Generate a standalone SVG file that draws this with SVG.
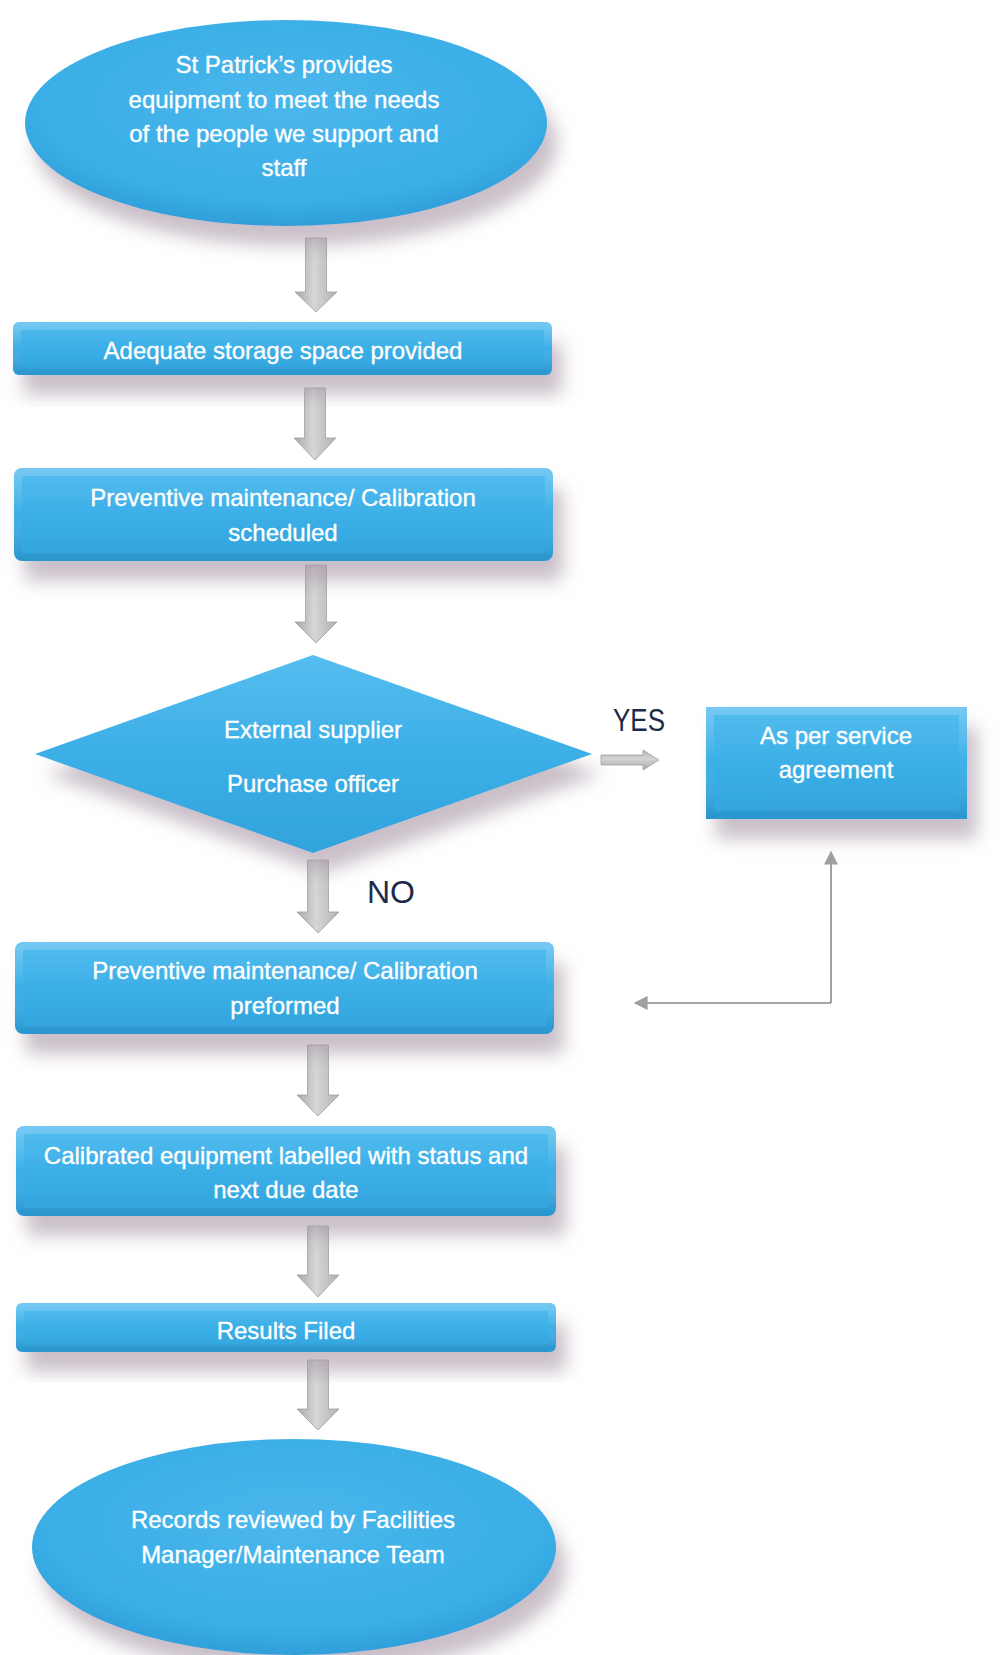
<svg xmlns="http://www.w3.org/2000/svg" width="1003" height="1655" viewBox="0 0 1003 1655">
<defs>
  <linearGradient id="blue" x1="0" y1="0" x2="0" y2="1">
    <stop offset="0" stop-color="#55bdef"/>
    <stop offset="0.5" stop-color="#3cafe7"/>
    <stop offset="1" stop-color="#32a3dc"/>
  </linearGradient>
  <radialGradient id="blueE" cx="0.5" cy="0.4" r="0.6">
    <stop offset="0" stop-color="#4ab7ec"/>
    <stop offset="0.8" stop-color="#3aaee6"/>
    <stop offset="1" stop-color="#2f9fd9"/>
  </radialGradient>
  <linearGradient id="bev" x1="0" y1="0" x2="0" y2="1">
    <stop offset="0" stop-color="#ffffff" stop-opacity="0.18"/>
    <stop offset="0.5" stop-color="#ffffff" stop-opacity="0"/>
    <stop offset="1" stop-color="#0a5f8f" stop-opacity="0.18"/>
  </linearGradient>
  <linearGradient id="grey" x1="0" y1="0" x2="1" y2="0">
    <stop offset="0" stop-color="#a9a9a9"/>
    <stop offset="0.45" stop-color="#d6d6d6"/>
    <stop offset="1" stop-color="#b2b2b2"/>
  </linearGradient>
  <linearGradient id="greyH" x1="0" y1="0" x2="0" y2="1">
    <stop offset="0" stop-color="#b0b0b0"/>
    <stop offset="0.45" stop-color="#d4d4d4"/>
    <stop offset="1" stop-color="#a8a8a8"/>
  </linearGradient>
  <filter id="sh" x="-10%" y="-30%" width="130%" height="190%">
    <feDropShadow dx="10" dy="20" stdDeviation="9" flood-color="#a695a4" flood-opacity="0.6"/>
  </filter>
  <marker id="tri2" viewBox="0 0 10 10" refX="9" refY="5" markerWidth="14" markerHeight="14" markerUnits="userSpaceOnUse" orient="auto">
    <path d="M0,0 L10,5 L0,10 Z" fill="#a0a0a0"/>
  </marker>
  <style>
    .shape { fill: url(#blue); filter: url(#sh); }
    .ell { fill: url(#blueE); filter: url(#sh); }
    .bevel { fill: none; stroke: url(#bev); stroke-width: 8; }
    .t { font-family: "Liberation Sans", Arial, sans-serif; font-size: 24px; fill: #ffffff; stroke: #ffffff; stroke-width: 0.35; text-anchor: middle; }
    .lbl { font-family: "Liberation Sans", Arial, sans-serif; font-size: 32px; fill: #1d2b4a; }
    .blk { fill: url(#grey); stroke: #a0a0a0; stroke-width: 0.8; }
    .fb { fill: none; stroke: #8a8a8a; stroke-width: 1.6; }
  </style>
</defs>
<rect width="1003" height="1655" fill="#ffffff"/>

<g id="connectors">
  <path class="blk" d="M305.5,238 H326.5 V292 H337 L316,312 L295,292 H305.5 Z"/>
  <path class="blk" d="M304.5,388 H325.5 V438 H336 L315,460 L294,438 H304.5 Z"/>
  <path class="blk" d="M305.5,565 H326.5 V622 H337 L316,643 L295,622 H305.5 Z"/>
  <path class="blk" d="M307.5,860 H328.5 V912 H339 L318,933 L297,912 H307.5 Z"/>
  <path class="blk" d="M307.5,1045 H328.5 V1095 H339 L318,1116 L297,1095 H307.5 Z"/>
  <path class="blk" d="M307.5,1226 H328.5 V1275 H339 L318,1297 L297,1275 H307.5 Z"/>
  <path class="blk" d="M307.5,1360 H328.5 V1409 H339 L318,1430 L297,1409 H307.5 Z"/>
  <path d="M601,755 H643 V750 L659,760 L643,770 V765 H601 Z" fill="url(#greyH)" stroke="#a0a0a0" stroke-width="0.8"/>
  <polyline class="fb" points="831,1003 831,852" marker-end="url(#tri2)"/>
  <polyline class="fb" points="831,1003 635,1003" marker-end="url(#tri2)"/>
  <text class="lbl" x="613" y="731" textLength="52" lengthAdjust="spacingAndGlyphs">YES</text>
  <text class="lbl" x="367" y="903" textLength="48" lengthAdjust="spacingAndGlyphs">NO</text>
</g>

<g id="start">
  <ellipse class="ell" cx="286" cy="123" rx="261" ry="103"/>
  <text class="t" x="284" y="73">St Patrick’s provides</text>
  <text class="t" x="284" y="108">equipment to meet the needs</text>
  <text class="t" x="284" y="142">of the people we support and</text>
  <text class="t" x="284" y="176">staff</text>
</g>

<g id="storage">
  <rect class="shape" x="13" y="322" width="539" height="53" rx="6"/>
  <rect class="bevel" x="17" y="326" width="531" height="45" rx="3"/>
  <text class="t" x="283" y="359">Adequate storage space provided</text>
</g>

<g id="scheduled">
  <rect class="shape" x="14" y="468" width="539" height="93" rx="8"/>
  <rect class="bevel" x="18" y="472" width="531" height="85" rx="5"/>
  <text class="t" x="283" y="506">Preventive maintenance/ Calibration</text>
  <text class="t" x="283" y="541">scheduled</text>
</g>

<g id="decision">
  <polygon class="shape" points="313,655 592,754 313,853 35,754"/>
  <text class="t" x="313" y="738" textLength="178" lengthAdjust="spacingAndGlyphs">External supplier</text>
  <text class="t" x="313" y="792" textLength="172" lengthAdjust="spacingAndGlyphs">Purchase officer</text>
</g>

<g id="service">
  <rect class="shape" x="706" y="707" width="261" height="112"/>
  <rect class="bevel" x="710" y="711" width="253" height="104"/>
  <text class="t" x="836" y="744">As per service</text>
  <text class="t" x="836" y="778">agreement</text>
</g>

<g id="performed">
  <rect class="shape" x="15" y="942" width="539" height="92" rx="8"/>
  <rect class="bevel" x="19" y="946" width="531" height="84" rx="5"/>
  <text class="t" x="285" y="979">Preventive maintenance/ Calibration</text>
  <text class="t" x="285" y="1014">preformed</text>
</g>

<g id="labelled">
  <rect class="shape" x="16" y="1126" width="540" height="90" rx="8"/>
  <rect class="bevel" x="20" y="1130" width="532" height="82" rx="5"/>
  <text class="t" x="286" y="1164">Calibrated equipment labelled with status and</text>
  <text class="t" x="286" y="1198">next due date</text>
</g>

<g id="filed">
  <rect class="shape" x="16" y="1303" width="540" height="49" rx="6"/>
  <rect class="bevel" x="20" y="1307" width="532" height="41" rx="3"/>
  <text class="t" x="286" y="1339">Results Filed</text>
</g>

<g id="end">
  <ellipse class="ell" cx="294" cy="1547" rx="262" ry="108"/>
  <text class="t" x="293" y="1528">Records reviewed by Facilities</text>
  <text class="t" x="293" y="1563">Manager/Maintenance Team</text>
</g>
</svg>
